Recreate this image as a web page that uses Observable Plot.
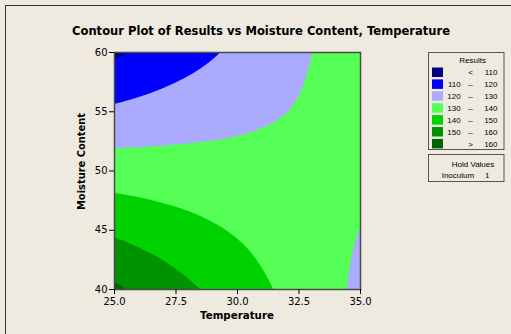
<!DOCTYPE html>
<html>
<head>
<meta charset="utf-8">
<script src="https://cdn.jsdelivr.net/npm/d3@7"></script>
<script src="https://cdn.jsdelivr.net/npm/@observablehq/plot@0.6"></script>
<style>
  body { margin: 0; background: #EEEAE0; }
  #wrap { position: relative; width: 511px; height: 334px; background: #EEEAE0; overflow: hidden; }
  #border { position: absolute; left: 5px; top: 5px; width: 800px; height: 600px; border-left: 1.5px solid #333; border-top: 1.5px solid #333; }
  #chart, #overlay { position: absolute; left: 0; top: 0; }
</style>
</head>
<body>
<div id="wrap">
  <div id="border"></div>
  <div id="chart"></div>
  <div id="overlay"></div>
</div>
<script>
// ---- data ----
const temperature = [25, 26, 27, 28, 29, 30, 31, 32, 33, 34, 35];
const moisture = [40, 42, 44, 46, 48, 50, 52, 54, 56, 58, 60];
// Results, one row per moisture level (bottom to top), one column per temperature
const results = [
  [161.7, 158.3, 155.0, 151.6, 148.3, 144.9, 141.5, 138.2, 134.8, 131.5, 128.1],
  [156.4, 153.6, 150.9, 148.1, 145.4, 142.6, 139.8, 137.1, 134.3, 131.6, 128.8],
  [151.1, 148.9, 146.8, 144.6, 142.5, 140.3, 138.2, 136.0, 133.8, 131.7, 129.5],
  [145.7, 144.2, 142.6, 141.1, 139.5, 138.0, 136.5, 134.9, 133.4, 131.8, 130.3],
  [140.4, 139.5, 138.5, 137.6, 136.6, 135.7, 134.8, 133.8, 132.9, 131.9, 131.0],
  [135.1, 134.8, 134.4, 134.1, 133.7, 133.4, 133.1, 132.7, 132.4, 132.0, 131.7],
  [129.8, 130.04, 130.3, 130.6, 130.8, 131.1, 131.4, 131.6, 131.9, 132.2, 132.4],
  [124.5, 125.3, 126.2, 127.1, 127.9, 128.8, 129.7, 130.5, 131.4, 132.3, 133.1],
  [119.1, 120.6, 122.1, 123.6, 125.0, 126.5, 128.0, 129.4, 130.9, 132.4, 133.9],
  [113.8, 115.9, 118.0, 120.05, 122.1, 124.2, 126.3, 128.4, 130.4, 132.5, 134.6],
  [108.5, 111.2, 113.9, 116.5, 119.2, 121.9, 124.6, 127.3, 129.9, 132.6, 135.3]
];
const levels = [110, 120, 130, 140, 150, 160];
const levelColors = ["#000080", "#0000FF", "#AAAAFF", "#55FF55", "#00D200", "#009300", "#006400"];
const xTicks = [25, 27.5, 30, 32.5, 35];
const yTicks = [40, 45, 50, 55, 60];
const titleText = "Contour Plot of Results vs Moisture Content, Temperature";
const xLabel = "Temperature";
const yLabel = "Moisture Content";
const legendTitle = "Results";
const holdTitle = "Hold Values";
const holdName = "Inoculum";
const holdValue = "1";

// ---- build grid table ----
const grid = moisture.flatMap((m, j) => temperature.map((t, i) => ({T: t, M: m, v: results[j][i]})));

// bilinear interpolation of the regular sample grid onto Plot's raster
function bilinear(index, width, height, X, Y, V) {
  const xs = Array.from(new Set(Array.from(index, (i) => X[i]))).sort((a, b) => a - b);
  const ys = Array.from(new Set(Array.from(index, (i) => Y[i]))).sort((a, b) => a - b);
  const cell = new Float64Array(xs.length * ys.length);
  for (const i of index) cell[ys.indexOf(Y[i]) * xs.length + xs.indexOf(X[i])] = V[i];
  const locate = (arr, p) => {
    let c = 0;
    while (c < arr.length - 2 && p > arr[c + 1]) c++;
    const f = Math.max(0, Math.min(1, (p - arr[c]) / (arr[c + 1] - arr[c])));
    return [c, f];
  };
  const out = new Float64Array(width * height);
  for (let y = 0, k = 0; y < height; ++y) {
    const [r, fy] = locate(ys, y + 0.5);
    for (let x = 0; x < width; ++x, ++k) {
      const [c, fx] = locate(xs, x + 0.5);
      const n = xs.length;
      const v00 = cell[r * n + c], v01 = cell[r * n + c + 1];
      const v10 = cell[(r + 1) * n + c], v11 = cell[(r + 1) * n + c + 1];
      out[k] = (v00 * (1 - fx) + v01 * fx) * (1 - fy) + (v10 * (1 - fx) + v11 * fx) * fy;
    }
  }
  return out;
}

const chart = Plot.plot({
  width: 511,
  height: 334,
  marginLeft: 114,
  marginRight: 151,
  marginTop: 52,
  marginBottom: 45,
  style: {background: "transparent", fontFamily: "DejaVu Sans", fontSize: "10px", color: "#000"},
  x: {domain: [25, 35], ticks: xTicks, tickFormat: ".1f", tickSize: 5, tickPadding: 2, label: null},
  y: {domain: [40, 60], ticks: yTicks, tickSize: 5, tickPadding: 2, label: null},
  color: {type: "threshold", domain: levels, range: levelColors},
  marks: [
    Plot.contour(grid, {
      x: "T", y: "M", fill: "v",
      thresholds: [100, ...levels],
      interpolate: bilinear,
      pixelSize: 1,
      stroke: "none"
    }),
    Plot.frame({stroke: "#4a4a4a", strokeWidth: 1.5}),
    Plot.axisX({ticks: xTicks, tickFormat: ".1f", tickSize: 5, tickPadding: 3, label: null}),
    Plot.axisY({ticks: yTicks, tickSize: 5, tickPadding: 2, label: null})
  ]
});
document.getElementById("chart").appendChild(chart);

// ---- overlay: title, axis labels, legend ----
const ov = d3.select("#overlay").append("svg")
  .attr("width", 511).attr("height", 334)
  .style("font-family", "'DejaVu Sans', sans-serif");

ov.append("text").attr("x", 261).attr("y", 35).attr("text-anchor", "middle")
  .attr("font-weight", "bold").attr("font-size", 13)
  .attr("textLength", 378).attr("lengthAdjust", "spacingAndGlyphs")
  .text(titleText);

ov.append("text").attr("x", 237).attr("y", 319).attr("text-anchor", "middle")
  .attr("font-weight", "bold").attr("font-size", 10.5)
  .attr("textLength", 74).attr("lengthAdjust", "spacingAndGlyphs")
  .text(xLabel);

ov.append("text").attr("transform", "translate(85,161.5) rotate(-90)").attr("text-anchor", "middle")
  .attr("font-weight", "bold").attr("font-size", 10.5)
  .attr("textLength", 97).attr("lengthAdjust", "spacingAndGlyphs")
  .text(yLabel);

const lg = ov.append("g").style("font-family", "'Liberation Sans', Arial, sans-serif").attr("font-size", 8);
lg.append("rect").attr("x", 428.5).attr("y", 52.5).attr("width", 75.5).attr("height", 97)
  .attr("fill", "none").attr("stroke", "#555");
lg.append("text").attr("x", 472.7).attr("y", 62.5).attr("text-anchor", "middle").text(legendTitle);
levelColors.forEach((c, i) => {
  const y0 = 67.5 + i * 11.9;
  lg.append("rect").attr("x", 432).attr("y", y0).attr("width", 11).attr("height", 9.5).attr("fill", c);
  const by = y0 + 7.6;
  if (i === 0) {
    lg.append("text").attr("x", 470.5).attr("y", by).attr("text-anchor", "middle").text("<");
    lg.append("text").attr("x", 497.5).attr("y", by).attr("text-anchor", "end").text(levels[0]);
  } else if (i === levelColors.length - 1) {
    lg.append("text").attr("x", 470.5).attr("y", by).attr("text-anchor", "middle").text(">");
    lg.append("text").attr("x", 497.5).attr("y", by).attr("text-anchor", "end").text(levels[levels.length - 1]);
  } else {
    lg.append("text").attr("x", 460.7).attr("y", by).attr("text-anchor", "end").text(levels[i - 1]);
    lg.append("text").attr("x", 470.5).attr("y", by).attr("text-anchor", "middle").text("\u2013");
    lg.append("text").attr("x", 497.5).attr("y", by).attr("text-anchor", "end").text(levels[i]);
  }
});
lg.append("rect").attr("x", 428.5).attr("y", 154.5).attr("width", 75.5).attr("height", 27)
  .attr("fill", "none").attr("stroke", "#555");
lg.append("text").attr("x", 473).attr("y", 167).attr("text-anchor", "middle").text(holdTitle);
lg.append("text").attr("x", 441.7).attr("y", 178).text(holdName);
lg.append("text").attr("x", 485).attr("y", 178).text(holdValue);
</script>
</body>
</html>
